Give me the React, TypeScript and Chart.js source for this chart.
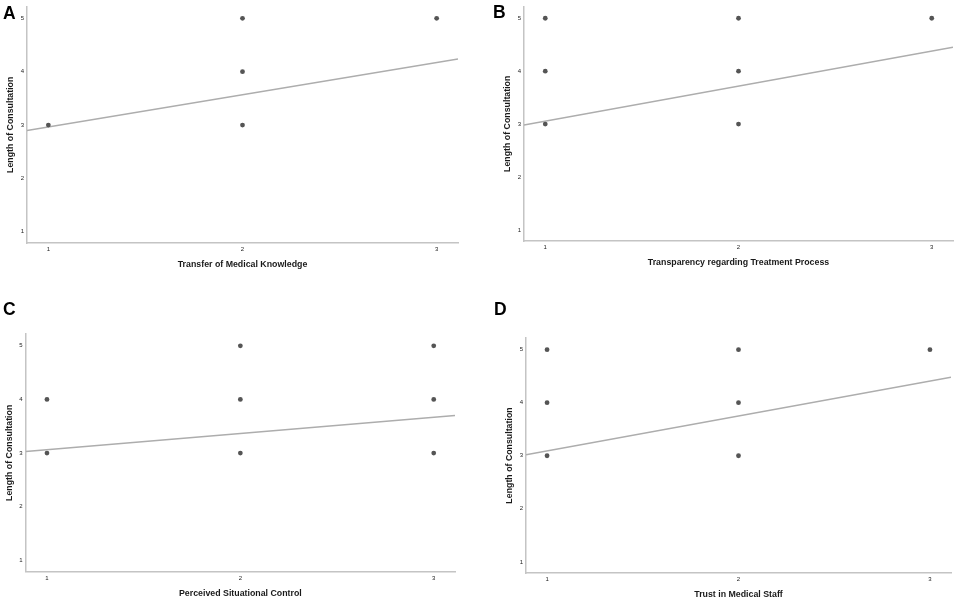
import { useEffect, useRef } from 'react';
import { Chart, registerables } from 'chart.js';

Chart.register(...registerables);

// tick values shared by all four panels
const xTicks = [1, 2, 3];
const yTicks = [1, 2, 3, 4, 5];
const xMin = 0.89;
const xMax = 3.11;
const yMin = 0.79;
const yMax = 5.22;

// A - Transfer of Medical Knowledge
const knowledgeX = [1, 2, 2, 2, 3];
const knowledgeY = [3, 5, 4, 3, 5];
const knowledgeFit = [2.9, 4.24];

// B - Transparency regarding Treatment Process
const transparencyX = [1, 1, 1, 2, 2, 2, 3];
const transparencyY = [5, 4, 3, 5, 4, 3, 5];
const transparencyFit = [2.98, 4.45];

// C - Perceived Situational Control
const controlX = [1, 1, 2, 2, 2, 3, 3, 3];
const controlY = [4, 3, 5, 4, 3, 5, 4, 3];
const controlFit = [3.03, 3.7];

// D - Trust in Medical Staff
const trustX = [1, 1, 1, 2, 2, 2, 3];
const trustY = [5, 4, 3, 5, 4, 3, 5];
const trustFit = [3.02, 4.48];

const yTitle = 'Length of Consultation';
const FONT = "'Liberation Sans', Arial, sans-serif";

interface PanelProps {
  letter: string;
  xTitle: string;
  xs: number[];
  ys: number[];
  fit: number[];
  left: number;
  top: number;
  width: number;
  height: number;
  pad: { left: number; top: number; right: number; bottom: number };
  xBoxHeight: number;
  letterX: number;
  letterY: number;
}

const Panel = ({ letter, xTitle, xs, ys, fit, left, top, width, height, pad, xBoxHeight, letterX, letterY }: PanelProps) => {
  const canvasRef = useRef<HTMLCanvasElement>(null);

  useEffect(() => {
    if (!canvasRef.current) return;
    const chart = new Chart(canvasRef.current, {
      type: 'scatter',
      data: {
        datasets: [
          {
            data: xs.map((x, i) => ({ x, y: ys[i] })),
            backgroundColor: '#555555',
            borderWidth: 0,
            pointRadius: 2.4,
          },
          {
            data: [
              { x: xMin, y: fit[0] },
              { x: xMax, y: fit[1] },
            ],
            showLine: true,
            borderColor: '#adadad',
            borderWidth: 1.5,
            pointRadius: 0,
          },
        ],
      },
      options: {
        animation: false,
        responsive: true,
        maintainAspectRatio: false,
        layout: { padding: pad },
        plugins: { legend: { display: false }, tooltip: { enabled: false } },
        scales: {
          x: {
            type: 'linear',
            min: xMin,
            max: xMax,
            grid: { display: false, drawTicks: false },
            border: { display: true, color: '#c4c4c4', width: 1.5 },
            afterBuildTicks: (scale: any) => {
              scale.ticks = xTicks.map(v => ({ value: v }));
            },
            afterFit: (scale: any) => {
              scale.height = xBoxHeight;
            },
            ticks: { font: { family: FONT, size: 6 }, color: '#222', padding: 3, maxRotation: 0 },
            title: {
              display: true,
              text: xTitle,
              font: { family: FONT, size: 8.8, weight: 'bold' },
              color: '#1a1a1a',
              padding: { top: 0, bottom: 2 },
            },
          },
          y: {
            type: 'linear',
            min: yMin,
            max: yMax,
            grid: { display: false, drawTicks: false },
            border: { display: true, color: '#c4c4c4', width: 1.5 },
            afterBuildTicks: (scale: any) => {
              scale.ticks = yTicks.map(v => ({ value: v }));
            },
            afterFit: (scale: any) => {
              scale.width = 25;
            },
            ticks: { font: { family: FONT, size: 6 }, color: '#222', padding: 3 },
            title: {
              display: true,
              text: yTitle,
              font: { family: FONT, size: 8.8, weight: 'bold' },
              color: '#1a1a1a',
              padding: { top: 3.2, bottom: 0 },
            },
          },
        },
      },
    });

    return () => {
      chart.destroy();
    };
  }, []);

  return (
    <>
      <div style={{ position: 'absolute', left, top, width, height }}>
        <canvas ref={canvasRef}></canvas>
      </div>
      <div
        style={{
          position: 'absolute',
          left: letterX,
          top: letterY,
          fontFamily: FONT,
          fontWeight: 'bold',
          fontSize: 17.5,
          lineHeight: 1,
          color: '#000',
        }}
      >
        {letter}
      </div>
    </>
  );
};

export default function App() {
  return (
    <div style={{ position: 'absolute', left: 0, top: 0, width: 957, height: 602, background: '#fff' }}>
      <Panel
        letter="A"
        xTitle="Transfer of Medical Knowledge"
        xs={knowledgeX}
        ys={knowledgeY}
        fit={knowledgeFit}
        left={0}
        top={0}
        width={478}
        height={300}
        pad={{ left: 2, top: 5, right: 20, bottom: 28 }}
        xBoxHeight={29}
        letterX={3}
        letterY={5}
      />
      <Panel
        letter="B"
        xTitle="Transparency regarding Treatment Process"
        xs={transparencyX}
        ys={transparencyY}
        fit={transparencyFit}
        left={478}
        top={0}
        width={479}
        height={300}
        pad={{ left: 21, top: 3, right: 4, bottom: 30 }}
        xBoxHeight={29}
        letterX={493}
        letterY={3.5}
      />
      <Panel
        letter="C"
        xTitle="Perceived Situational Control"
        xs={controlX}
        ys={controlY}
        fit={controlFit}
        left={0}
        top={300}
        width={478}
        height={302}
        pad={{ left: 0.7, top: 34, right: 23, bottom: 1.3 }}
        xBoxHeight={29}
        letterX={3}
        letterY={300.5}
      />
      <Panel
        letter="D"
        xTitle="Trust in Medical Staff"
        xs={trustX}
        ys={trustY}
        fit={trustFit}
        left={478}
        top={300}
        width={479}
        height={302}
        pad={{ left: 23, top: 38, right: 6, bottom: 0 }}
        xBoxHeight={29}
        letterX={494}
        letterY={301}
      />
    </div>
  );
}
